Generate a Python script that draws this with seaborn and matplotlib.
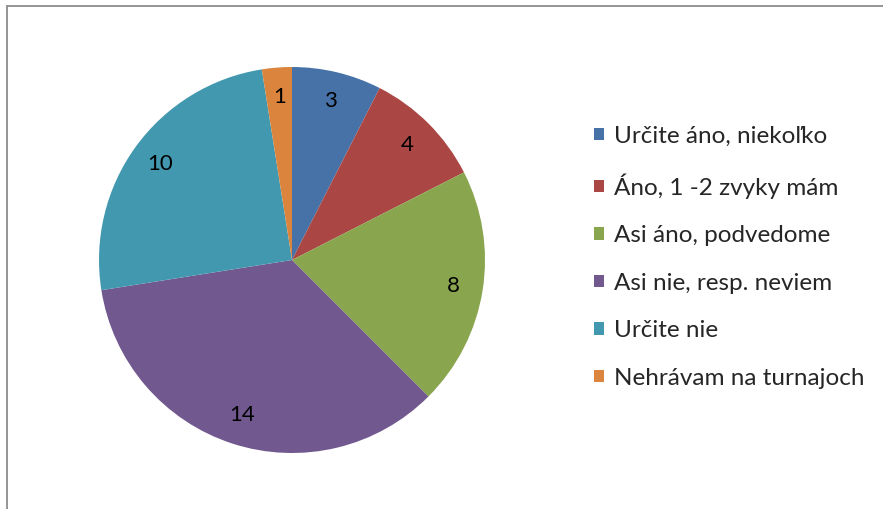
# %%
import numpy as np
import matplotlib
matplotlib.use("Agg")
from matplotlib import pyplot as plt
from matplotlib import patches
import seaborn as sns

# %% Data
labels = ["Určite áno, niekoľko", "Áno, 1 -2 zvyky mám", "Asi áno, podvedome",
          "Asi nie, resp. neviem", "Určite nie", "Nehrávam na turnajoch"]
counts = [3, 4, 8, 14, 10, 1]
colors = ["#4672A8", "#AA4643", "#89A54E", "#71588F", "#4198AF", "#DB843D"]

# %% Plot
sns.set_theme(style="white")
plt.rcParams["font.family"] = ["Lato", "DejaVu Sans"]

my_dpi = 100
fig = plt.figure(figsize=(883/my_dpi, 509/my_dpi), dpi=my_dpi)
ax = fig.add_axes([99/883, 56/509, 386/883, 386/509])

wedges, texts = ax.pie(counts, colors=sns.color_palette(colors), startangle=90,
                       counterclock=False, labels=[str(c) for c in counts],
                       labeldistance=0.845, radius=1,
                       wedgeprops=dict(linewidth=0),
                       textprops=dict(fontsize=16, color="black",
                                      ha="center", va="center"))
ax.set_xlim(-1, 1)
ax.set_ylim(-1, 1)
ax.set_aspect("equal")
ax.axis("off")

# legend
handles = [patches.Patch(facecolor=c, edgecolor="none") for c in colors]
fig.legend(handles, labels, loc="upper left",
           bbox_to_anchor=(584/883, 1 - 116/509), frameon=False,
           fontsize=17.5, handlelength=0.42, handleheight=0.42,
           handletextpad=0.42, labelspacing=1.09, borderaxespad=0)

# chart border
fig.patches.append(patches.Rectangle((6.5/883, -0.05), 1.2, 1 - 5.5/509 + 0.05,
                                     transform=fig.transFigure, fill=False,
                                     edgecolor="#8c8c8c", linewidth=1.3))

plt.savefig("out.png", dpi=my_dpi)
plt.close()
